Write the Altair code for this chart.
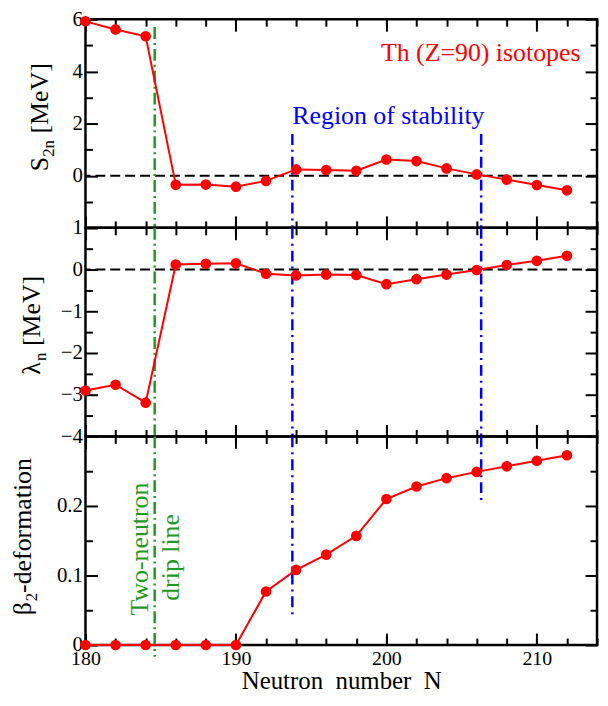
import altair as alt
import pandas as pd

FONT = "Liberation Serif, Times New Roman, Times, serif"

# ---------------- data ----------------
N = [180, 182, 184, 186, 188, 190, 192, 194, 196, 198, 200, 202, 204, 206, 208, 210, 212]
S2N = [5.92, 5.61, 5.35, -0.35, -0.34, -0.42, -0.20, 0.24, 0.22, 0.19, 0.62, 0.56, 0.28, 0.05, -0.15, -0.36, -0.56]
LAMBDA_N = [-2.90, -2.76, -3.19, 0.12, 0.14, 0.15, -0.10, -0.14, -0.12, -0.13, -0.35, -0.23, -0.12, -0.01, 0.11, 0.21, 0.33]
BETA2 = [0, 0, 0, 0, 0, 0, 0.077, 0.108, 0.130, 0.157, 0.210, 0.228, 0.240, 0.249, 0.257, 0.265, 0.273]

X_DOMAIN = [180, 214]
X_MAJOR = [180, 190, 200, 210]
X_MINOR = list(range(180, 215, 2))

S2N_DOMAIN = [-2, 6]
S2N_LABELS = [0, 2, 4, 6]
S2N_MAJOR = [-2, 0, 2, 4, 6]
S2N_MINOR = [-1, 1, 3, 5]

LAM_DOMAIN = [-4, 1]
LAM_LABELS = [-4, -3, -2, -1, 0, 1]
LAM_MAJOR = [-4, -3, -2, -1, 0, 1]
LAM_MINOR = [-3.5, -2.5, -1.5, -0.5, 0.5]

BETA_DOMAIN = [0, 0.3]
BETA_LABELS = [0, 0.1, 0.2]
BETA_MAJOR = [0, 0.1, 0.2, 0.3]
BETA_MINOR = [0.05, 0.15, 0.25]

DRIP_N = 184.6
STAB_N = [193.75, 206.3]

# vertical marker segments per panel (top, bottom in data units)
TOP_DRIP = [5.7, -2]
TOP_STAB_TOP = [1.6, 1.6]
TOP_STAB_BOT = [-2, -2]
MID_DRIP = [1, -4]
MID_STAB_TOP = [1, 1]
MID_STAB_BOT = [-4, -4]
BOT_DRIP = [0.3, -0.017]
BOT_STAB_TOP = [0.3, 0.3]
BOT_STAB_BOT = [0.044, 0.208]

W, H = 515, 210
RED, GREEN, BLUE = "#ff0000", "#1f9a1f", "#0000ff"
ONE = pd.DataFrame({"k": [0]})

xs = alt.Scale(domain=X_DOMAIN, nice=False, zero=False)


def tick_axis(orient, offset, values, size):
    return alt.Axis(orient=orient, offset=offset, values=values, tickSize=size,
                    tickWidth=2, tickColor="black", labels=False, domain=False,
                    grid=False, title=None)


def panel(col, vals, ydom, ylabels, ymajor, yminor, drip, stab_top, stab_bot,
          zero_line, texts, title_pieces, title_x, title_y, bottom):
    df = pd.DataFrame({"N": N, col: vals})
    ys = alt.Scale(domain=ydom, nice=False, zero=False)
    layers = []

    # label axes
    if bottom:
        xlab = alt.Axis(orient="bottom", values=X_MAJOR, ticks=False, domain=False, grid=False,
                        labelFont=FONT, labelFontSize=20, labelColor="black", labelPadding=4,
                        labelFlush=False, labelOverlap=False,
                        title="Neutron\u00a0 number\u00a0 N", titleFont=FONT, titleFontSize=25,
                        titleFontWeight="normal", titleColor="black", titlePadding=0)
    else:
        xlab = None
    ylab = alt.Axis(orient="left", values=ylabels, ticks=False, domain=False, grid=False,
                    labelFont=FONT, labelFontSize=21, labelColor="black", labelPadding=3,
                    labelFlush=False, labelOverlap=False, title=None, format="~g")
    inv = alt.Chart(df).mark_point(opacity=0)
    layers.append(inv.encode(x=alt.X("N:Q", scale=xs, axis=xlab),
                             y=alt.Y(f"{col}:Q", scale=ys, axis=ylab)))
    # inward ticks on all four sides
    for xv, yv, size in [(X_MAJOR, ymajor, 12), (X_MINOR, yminor, 7)]:
        layers.append(inv.encode(x=alt.X("N:Q", scale=xs, axis=tick_axis("bottom", -H, xv, size)),
                                 y=alt.Y(f"{col}:Q", scale=ys, axis=tick_axis("right", -W, yv, size))))
        layers.append(inv.encode(x=alt.X("N:Q", scale=xs, axis=tick_axis("top", -H, xv, size)),
                                 y=alt.Y(f"{col}:Q", scale=ys, axis=tick_axis("left", -W, yv, size))))

    if zero_line:
        layers.append(alt.Chart(ONE).mark_rule(color="black", strokeWidth=2, strokeDash=[10, 5])
                      .encode(y=alt.Y("z:Q", scale=ys, axis=None)).transform_calculate(z="0"))

    drip_df = pd.DataFrame({"N": [DRIP_N], "top": [drip[0]], "bot": [drip[1]]})
    stab_df = pd.DataFrame({"N": STAB_N, "top": stab_top, "bot": stab_bot})
    layers.append(alt.Chart(drip_df).mark_rule(color=GREEN, strokeWidth=2.5, strokeDash=[12, 4, 2, 4])
                  .encode(x=alt.X("N:Q", scale=xs, axis=None),
                          y=alt.Y("top:Q", scale=ys, axis=None), y2="bot:Q"))
    layers.append(alt.Chart(stab_df).mark_rule(color=BLUE, strokeWidth=2.5, strokeDash=[11, 5, 2, 5])
                  .encode(x=alt.X("N:Q", scale=xs, axis=None),
                          y=alt.Y("top:Q", scale=ys, axis=None), y2="bot:Q"))

    layers.append(alt.Chart(df).mark_line(color=RED, strokeWidth=2)
                  .encode(x=alt.X("N:Q", scale=xs, axis=None),
                          y=alt.Y(f"{col}:Q", scale=ys, axis=None)))
    layers.append(alt.Chart(df).mark_circle(color=RED, size=115, opacity=1)
                  .encode(x=alt.X("N:Q", scale=xs, axis=None),
                          y=alt.Y(f"{col}:Q", scale=ys, axis=None)))

    for t in texts:
        tdf = pd.DataFrame({"N": [t["x"]], "v": [t["y"]], "label": [t["text"]]})
        layers.append(alt.Chart(tdf).mark_text(font=FONT, fontSize=26, color=t["color"],
                                               align=t["align"], baseline="alphabetic",
                                               angle=t.get("angle", 0))
                      .encode(x=alt.X("N:Q", scale=xs, axis=None),
                              y=alt.Y("v:Q", scale=ys, axis=None), text="label:N"))

    for text, size, dx, dy in title_pieces:
        layers.append(alt.Chart(ONE).mark_text(text=text, font=FONT, fontSize=size, angle=270,
                                               align="left", baseline="alphabetic", dx=dx, dy=dy,
                                               color="black")
                      .encode(x=alt.value(title_x), y=alt.value(title_y)))

    return (alt.layer(*layers)
            .resolve_axis(x="independent", y="independent")
            .properties(width=W, height=H))


top = panel("S2n", S2N, S2N_DOMAIN, S2N_LABELS, S2N_MAJOR, S2N_MINOR,
            TOP_DRIP, TOP_STAB_TOP, TOP_STAB_BOT, True,
            [dict(x=212.9, y=4.4, text="Th (Z=90) isotopes", color=RED, align="right"),
             dict(x=193.75, y=2.0, text="Region of stability", color=BLUE, align="left")],
            [("S", 26, 0, 0), ("2n", 17, 14.5, 6), ("[MeV]", 26, 38, 0)],
            -38, 153, False)

mid = panel("lam", LAMBDA_N, LAM_DOMAIN, LAM_LABELS, LAM_MAJOR, LAM_MINOR,
            MID_DRIP, MID_STAB_TOP, MID_STAB_BOT, True, [],
            [("\u03bb", 26, 0, 0), ("n", 17, 14, 6), ("[MeV]", 26, 29, 0)],
            -46, 148, False)

bot = panel("beta", BETA2, BETA_DOMAIN, BETA_LABELS, BETA_MAJOR, BETA_MINOR,
            BOT_DRIP, BOT_STAB_TOP, BOT_STAB_BOT, False,
            [dict(x=184.16, y=0.138, text="Two-neutron", color=GREEN, align="center", angle=270),
             dict(x=186.2, y=0.126, text="drip line", color=GREEN, align="center", angle=270)],
            [("\u03b2", 26, 0, 0), ("2", 17, 14, 6), ("-deformation", 26, 22.5, 0)],
            -55, 180, True)

chart = (alt.vconcat(top, mid, bot, spacing=0, bounds="flush")
         .properties(padding={"left": 0, "top": -4, "right": 0, "bottom": 0},
                     background="white")
         .configure_view(stroke="black", strokeWidth=2.5))

chart.save("out.html", embed_options={"renderer": "svg", "actions": False})
